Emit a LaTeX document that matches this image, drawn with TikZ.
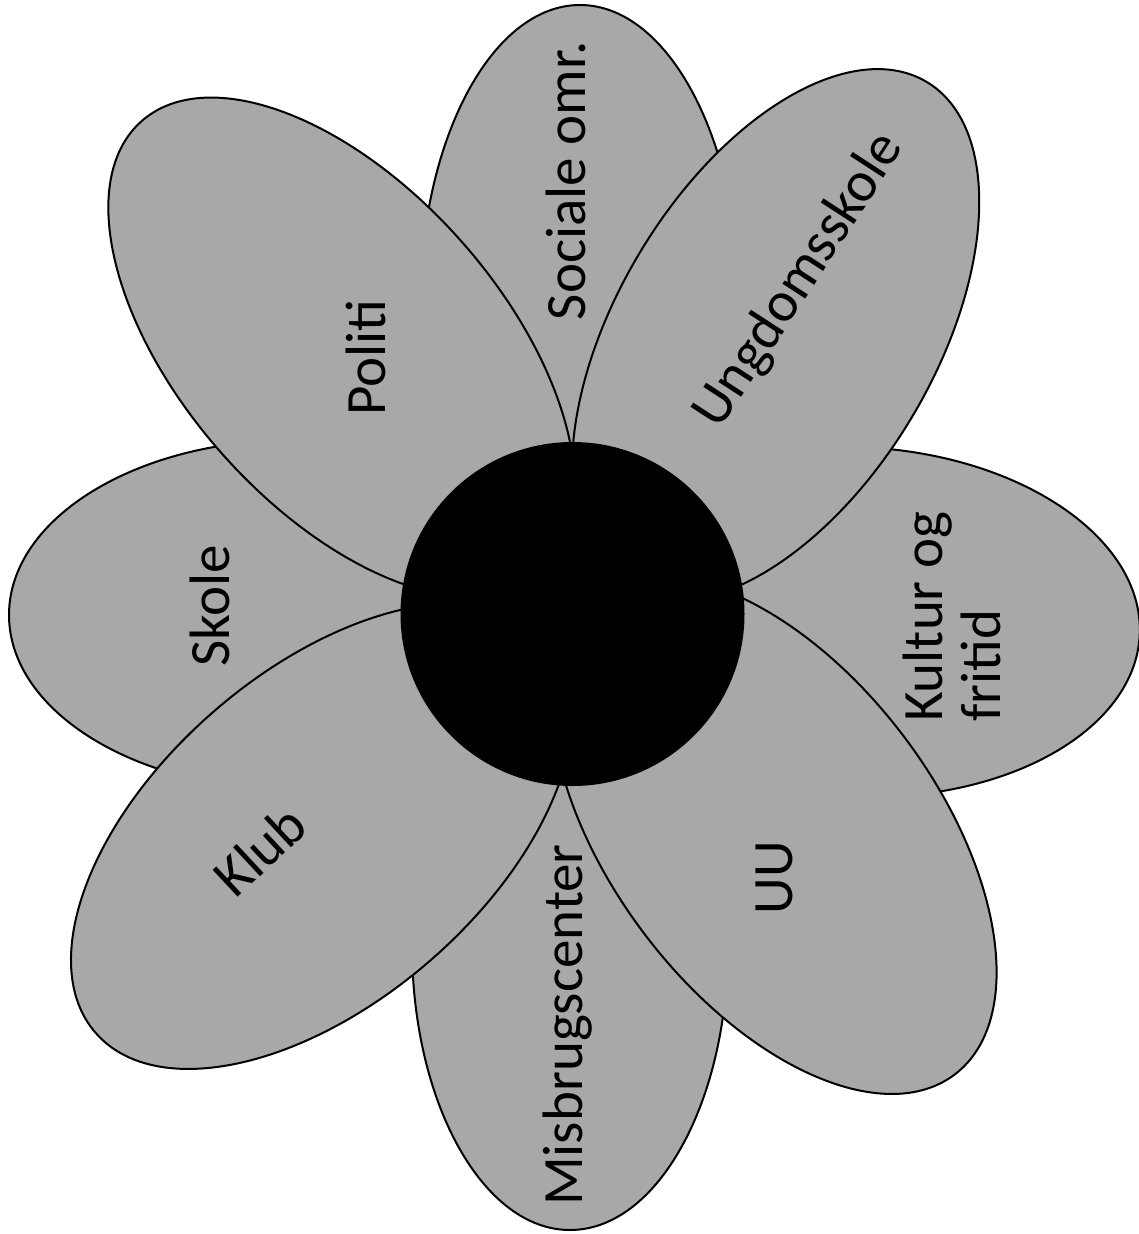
\documentclass[tikz,border=0pt]{standalone}
\usepackage{fontspec}
\setmainfont{Carlito}
\usetikzlibrary{shapes.geometric}
\definecolor{petalgray}{RGB}{168,168,168}
\begin{document}
\begin{tikzpicture}[x=1pt,y=-1pt,
  petal/.style={ellipse, draw=black, line width=2pt, fill=petalgray, inner sep=0pt, outer sep=0pt},
  lbl/.style={font=\fontsize{57}{58}\selectfont, inner sep=0pt, anchor=base, text=black}]
\fill[white] (0,0) rectangle (1139,1234);
\useasboundingbox (0,0) rectangle (1139,1234);
% axis petals (underneath)
\node[petal, minimum width=604pt, minimum height=320pt, rotate=90] (sociale) at (580,307) {};
\node[petal, minimum width=570pt, minimum height=316pt, rotate=90] (misbrug) at (570,945) {};
\node[petal, minimum width=570pt, minimum height=350pt] (skole) at (294,615) {};
\node[petal, minimum width=570pt, minimum height=350pt, rotate=-2.5] (kultur) at (855,622) {};
% diagonal petals (on top)
\node[petal, minimum width=604pt, minimum height=320pt, rotate=-48.5] (politi) at (341.6,347.4) {};
\node[petal, minimum width=590pt, minimum height=318pt, rotate=59.2] (ungdom) at (775.6,335.3) {};
\node[petal, minimum width=600pt, minimum height=330pt, rotate=41] (klub) at (322,836) {};
\node[petal, minimum width=600pt, minimum height=326pt, rotate=-53] (uu) at (774,835) {};
% centre
\node[circle, fill=black, minimum size=344pt, inner sep=0pt] (hub) at (572.5,614) {};
% labels
\node[lbl, rotate=90] (t-sociale) at (585,180.5) {Sociale omr.};
\node[lbl, rotate=90] (t-politi) at (385,357.5) {Politi};
\node[lbl, rotate=57] (t-ungdom) at (812,289) {Ungdomsskole};
\node[lbl, rotate=90] (t-skole) at (229.4,606) {Skole};
\node[lbl, rotate=90, anchor=base west] (t-kultur) at (942.5,722) {\begin{tabular}[t]{@{}l@{}}Kultur og\\fritid\end{tabular}};
\node[lbl, rotate=43] (t-klub) at (273,865) {Klub};
\node[lbl, rotate=90] (t-uu) at (792,878) {UU};
\node[lbl, rotate=90] (t-misbrug) at (582,1025) {Misbrugscenter};
\end{tikzpicture}
\end{document}
